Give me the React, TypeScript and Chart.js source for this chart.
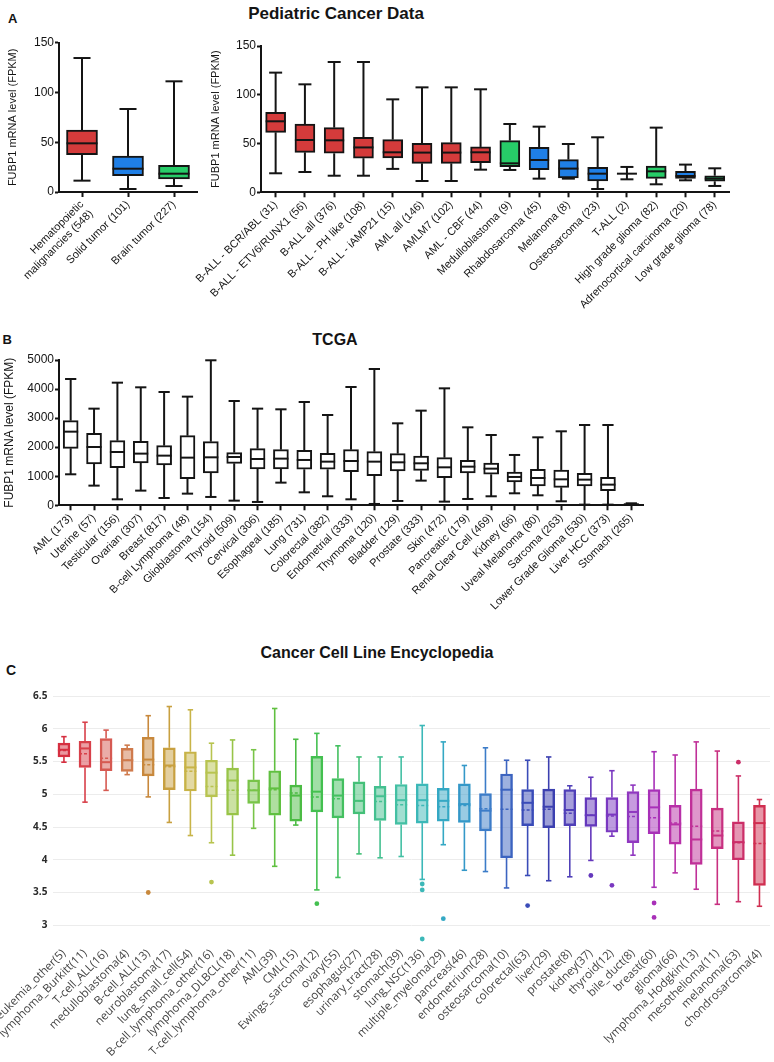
import React, { useEffect, useRef } from 'react';
import { Chart, registerables } from 'chart.js';

Chart.register(...registerables);

const ARIAL = "'Liberation Sans', Arial, Helvetica, sans-serif";
const OPEN = "'Open Sans', 'Noto Sans', sans-serif";

const RED = '#d43b3b';
const BLUE = '#1f7fe6';
const GREEN = '#27cc68';
const INK = '#141414';

// ---------- Panel A (left): pediatric groups ----------
const pedGroupLabels: (string | string[])[] = [['Hematopoietic', 'malignancies (548)'], 'Solid tumor (101)', 'Brain tumor (227)'];
const pedGroupMin = [11.4, 3.0, 6.0];
const pedGroupQ1 = [37.5, 16.4, 13.1];
const pedGroupMedian = [48.9, 23.4, 18.4];
const pedGroupQ3 = [62.3, 36.2, 26.8];
const pedGroupMax = [134.6, 83.4, 111.2];
const pedGroupColors = [RED, BLUE, GREEN];

// ---------- Panel A (right): pediatric subtypes ----------
const pedTypeLabels = [
  'B-ALL - BCR/ABL (31)', 'B-ALL - ETV6/RUNX1 (56)', 'B-ALL all (376)', 'B-ALL - PH like (108)',
  'B-ALL - iAMP21 (15)', 'AML all (146)', 'AMLM7 (102)', 'AML - CBF (44)', 'Medulloblastoma (9)',
  'Rhabdosarcoma (45)', 'Melanoma (8)', 'Osteosarcoma (23)', 'T-ALL (2)', 'High grade glioma (82)',
  'Adrenocortical carcinoma (20)', 'Low grade glioma (78)',
];
const pedTypeMin = [19.5, 20.8, 17.0, 17.0, 24.0, 11.6, 11.6, 23.2, 22.9, 14.0, 14.0, 3.4, 13.3, 8.2, 12.3, 6.5];
const pedTypeQ1 = [61.5, 41.0, 40.0, 35.0, 35.2, 29.7, 29.7, 30.4, 26.3, 23.2, 14.7, 11.6, 19.1, 14.3, 14.3, 11.3];
const pedTypeMedian = [72.8, 53.6, 53.3, 46.0, 41.0, 40.7, 40.7, 41.0, 29.7, 33.1, 24.3, 19.1, 19.1, 21.5, 16.7, 14.0];
const pedTypeQ3 = [82.0, 70.0, 66.3, 56.4, 54.0, 50.2, 51.0, 46.5, 53.0, 46.1, 33.5, 25.6, 19.1, 27.0, 21.5, 17.0];
const pedTypeMax = [122.7, 110.7, 133.6, 133.6, 95.3, 107.6, 107.6, 105.6, 70.0, 67.3, 49.5, 56.4, 26.0, 66.3, 28.4, 24.6];
const pedTypeColors = [RED, RED, RED, RED, RED, RED, RED, RED, GREEN, BLUE, BLUE, BLUE, 'rgba(0,0,0,0)', GREEN, BLUE, GREEN];

// ---------- Panel B: TCGA ----------
const tcgaLabels = [
  'AML (173)', 'Uterine (57)', 'Testicular (156)', 'Ovarian (307)', 'Breast (817)', 'B-cell Lymphoma (48)',
  'Glioblastoma (154)', 'Thyroid (509)', 'Cervical (306)', 'Esophageal (185)', 'Lung (731)', 'Colorectal (382)',
  'Endometrial (333)', 'Thymoma (120)', 'Bladder (129)', 'Prostate (333)', 'Skin (472)', 'Pancreatic (179)',
  'Renal Clear Cell (469)', 'Kidney (66)', 'Uveal Melanoma (80)', 'Sarcoma (263)', 'Lower Grade Glioma (530)',
  'Liver HCC (373)', 'Stomach (265)',
];
const tcgaMin = [1067, 677, 206, 505, 252, 401, 287, 160, 115, 780, 447, 310, 206, 46, 149, 849, 126, 218, 310, 413, 344, 138, 23, 23, 10];
const tcgaQ1 = [1961, 1422, 1296, 1456, 1388, 917, 1112, 1445, 1250, 1250, 1239, 1239, 1158, 1021, 1181, 1204, 952, 1112, 1067, 803, 665, 619, 665, 505, 23];
const tcgaMedian = [2534, 2007, 1835, 1778, 1709, 1640, 1651, 1663, 1594, 1606, 1560, 1502, 1525, 1502, 1479, 1445, 1307, 1330, 1261, 975, 940, 894, 883, 711, 35];
const tcgaQ3 = [2913, 2477, 2225, 2202, 2053, 2397, 2190, 1812, 1950, 1915, 1892, 1789, 1915, 1846, 1778, 1697, 1640, 1548, 1456, 1147, 1239, 1216, 1101, 963, 46];
const tcgaMax = [4346, 3326, 4220, 4060, 3899, 3739, 4990, 3589, 3326, 3303, 3555, 3108, 4071, 4690, 2821, 3257, 4025, 2683, 2420, 1732, 2339, 2546, 2764, 2764, 69];

// ---------- Panel C: CCLE ----------
const cclLabels = [
  'leukemia_other(5)', 'lymphoma_Burkitt(11)', 'T-cell_ALL(16)', 'medulloblastoma(4)', 'B-cell_ALL(13)',
  'neuroblastoma(17)', 'lung_small_cell(54)', 'B-cell_lymphoma_other(16)', 'lymphoma_DLBCL(18)',
  'T-cell_lymphoma_other(11)', 'AML(39)', 'CML(15)', 'Ewings_sarcoma(12)', 'ovary(55)', 'esophagus(27)',
  'urinary_tract(28)', 'stomach(39)', 'lung_NSC(136)', 'multiple_myeloma(29)', 'pancreas(46)',
  'endometrium(28)', 'osteosarcoma(10)', 'colorectal(63)', 'liver(29)', 'prostate(8)', 'kidney(37)',
  'thyroid(12)', 'bile_duct(8)', 'breast(60)', 'glioma(66)', 'lymphoma_Hodgkin(13)', 'mesothelioma(11)',
  'melanoma(63)', 'chondrosarcoma(4)',
];
const cclMin = [5.49, 4.88, 5.06, 5.30, 4.96, 4.57, 4.37, 4.26, 4.07, 4.48, 3.90, 4.53, 3.54, 3.73, 4.09, 4.03, 4.05, 3.70, 4.23, 3.84, 3.82, 3.57, 3.76, 3.68, 3.74, 3.99, 4.36, 4.07, 3.58, 3.80, 3.55, 3.32, 3.36, 3.29];
const cclQ1 = [5.57, 5.41, 5.36, 5.35, 5.28, 5.07, 5.05, 4.96, 4.68, 4.86, 4.68, 4.59, 4.73, 4.64, 4.70, 4.60, 4.54, 4.56, 4.59, 4.57, 4.44, 4.03, 4.52, 4.49, 4.52, 4.51, 4.42, 4.26, 4.40, 4.24, 3.93, 4.17, 4.00, 3.61];
const cclMedian = [5.68, 5.70, 5.49, 5.52, 5.53, 5.44, 5.41, 5.33, 5.21, 5.06, 5.09, 4.98, 5.04, 4.98, 4.90, 4.97, 4.91, 4.91, 4.90, 4.85, 4.75, 5.07, 4.87, 4.81, 4.76, 4.68, 4.69, 4.73, 4.80, 4.54, 4.31, 4.37, 4.27, 4.56];
const cclMean = [5.67, 5.62, 5.55, 5.52, 5.45, 5.42, 5.35, 5.12, 5.06, 5.06, 5.07, 5.02, 4.96, 4.93, 4.90, 4.89, 4.84, 4.83, 4.81, 4.83, 4.78, 4.77, 4.76, 4.77, 4.71, 4.68, 4.67, 4.66, 4.64, 4.56, 4.51, 4.44, 4.26, 4.25];
const cclQ3 = [5.78, 5.81, 5.85, 5.70, 5.87, 5.71, 5.65, 5.52, 5.40, 5.22, 5.36, 5.14, 5.58, 5.24, 5.19, 5.12, 5.15, 5.16, 5.09, 5.16, 5.01, 5.31, 5.07, 5.08, 5.07, 4.95, 4.95, 5.04, 5.07, 4.83, 5.08, 4.79, 4.58, 4.83];
const cclMax = [5.88, 6.10, 5.98, 5.75, 6.20, 6.34, 6.29, 5.78, 5.83, 5.68, 6.31, 5.84, 5.93, 5.74, 5.57, 5.57, 5.57, 6.05, 5.80, 5.44, 5.71, 5.52, 5.52, 5.57, 5.13, 5.26, 5.36, 5.14, 5.65, 5.60, 5.80, 5.66, 5.28, 4.92];
const cclOutlierGroups = [
  'B-cell_ALL(13)', 'B-cell_lymphoma_other(16)', 'Ewings_sarcoma(12)', 'lung_NSC(136)', 'lung_NSC(136)',
  'lung_NSC(136)', 'multiple_myeloma(29)', 'colorectal(63)', 'kidney(37)', 'thyroid(12)', 'breast(60)',
  'breast(60)', 'melanoma(63)',
];
const cclOutlierValues = [3.50, 3.66, 3.33, 3.63, 3.54, 2.79, 3.10, 3.30, 3.76, 3.61, 3.34, 3.12, 5.49];
const cclColors = [
  '#d62f40', '#d8404a', '#d65a52', '#cf7a4c', '#c8883c', '#c8a040', '#c8b448', '#b8c450', '#98c448',
  '#78c448', '#60c040', '#4cbc44', '#44c050', '#44c060', '#44c078', '#44c090', '#44c0a4', '#3cb8b8',
  '#34a8c4', '#3498c8', '#3c7cc8', '#3c64c0', '#3a4cb8', '#3c40b0', '#5040b8', '#6438bc', '#7a38c0',
  '#9038c0', '#a830b8', '#b830a8', '#c03098', '#c83080', '#cc2e68', '#d02e50',
];

function withAlpha(hex: string, a: number) {
  const n = parseInt(hex.slice(1), 16);
  return `rgba(${(n >> 16) & 255},${(n >> 8) & 255},${n & 255},${a})`;
}

type BoxStats = {
  min: number[];
  median: number[];
  max: number[];
  mean?: number[];
  lineColors: string[];
  lineWidth: number;
  capRatio: number;
  medianWidth: number;
};

function boxOverlay(s: BoxStats) {
  return {
    id: 'boxOverlay',
    afterDatasetsDraw(chart: any) {
      const ctx = chart.ctx as CanvasRenderingContext2D;
      const yScale = chart.scales.y;
      const meta = chart.getDatasetMeta(0);
      const boxes = chart.data.datasets[0].data as number[][];
      const seg = (x1: number, y1: number, x2: number, y2: number) => {
        ctx.beginPath();
        ctx.moveTo(x1, y1);
        ctx.lineTo(x2, y2);
        ctx.stroke();
      };
      ctx.save();
      ctx.lineCap = 'butt';
      meta.data.forEach((bar: any, i: number) => {
        const x = bar.x;
        const half = bar.width / 2;
        const cap = half * s.capRatio;
        const yLo = yScale.getPixelForValue(boxes[i][0]);
        const yHi = yScale.getPixelForValue(boxes[i][1]);
        const yMin = yScale.getPixelForValue(s.min[i]);
        const yMax = yScale.getPixelForValue(s.max[i]);
        const yMed = yScale.getPixelForValue(s.median[i]);
        ctx.strokeStyle = s.lineColors[i];
        ctx.lineWidth = s.lineWidth;
        ctx.setLineDash([]);
        seg(x, yHi, x, yMax);
        seg(x - cap, yMax, x + cap, yMax);
        seg(x, yLo, x, yMin);
        seg(x - cap, yMin, x + cap, yMin);
        ctx.lineWidth = s.medianWidth;
        seg(x - half, yMed, x + half, yMed);
        if (s.mean) {
          const yMean = yScale.getPixelForValue(s.mean[i]);
          ctx.lineWidth = 1.5;
          ctx.setLineDash([3, 2]);
          seg(x - half, yMean, x + half, yMean);
        }
      });
      ctx.restore();
    },
  };
}

type PrismOpts = {
  labels: (string | string[])[];
  q1: number[];
  q3: number[];
  min: number[];
  median: number[];
  max: number[];
  colors: string[];
  yMax: number;
  step: number;
  barThickness: number;
  capRatio: number;
  yWidth: number;
  xHeight: number;
  padTop: number;
  padRight: number;
  titlePad: number;
  titleSize: number;
  xFont: number;
};

function prismConfig(o: PrismOpts): any {
  return {
    type: 'bar',
    data: {
      labels: o.labels,
      datasets: [
        {
          data: o.q1.map((v, i) => [v, o.q3[i]]),
          backgroundColor: o.colors,
          borderColor: INK,
          borderWidth: 2,
          borderSkipped: false,
          barThickness: o.barThickness,
        },
      ],
    },
    options: {
      responsive: false,
      maintainAspectRatio: false,
      animation: false,
      events: [],
      layout: { padding: { top: o.padTop, right: o.padRight, left: 0, bottom: 0 } },
      plugins: { legend: { display: false }, tooltip: { enabled: false } },
      scales: {
        x: {
          offset: true,
          grid: { display: true, drawOnChartArea: false, drawTicks: true, tickLength: 5, tickWidth: 2, tickColor: INK, offset: false },
          border: { display: true, color: INK, width: 2 },
          ticks: { autoSkip: false, minRotation: 45, maxRotation: 45, padding: 1, color: INK, font: { family: ARIAL, size: o.xFont } },
          afterFit: (s: any) => {
            s.height = o.xHeight;
            s.paddingLeft = 0;
            s.paddingRight = 0;
          },
        },
        y: {
          min: 0,
          max: o.yMax,
          grid: { drawOnChartArea: false, drawTicks: true, tickLength: 4, tickWidth: 2, tickColor: INK },
          border: { display: true, color: INK, width: 2 },
          ticks: { stepSize: o.step, padding: 1, color: INK, font: { family: ARIAL, size: 12 }, callback: (v: any) => String(v) },
          title: {
            display: true,
            text: 'FUBP1 mRNA level (FPKM)',
            color: INK,
            font: { family: ARIAL, size: o.titleSize },
            padding: { top: o.titlePad, bottom: 0 },
          },
          afterFit: (s: any) => {
            s.width = o.yWidth;
            s.paddingTop = 0;
            s.paddingBottom = 0;
          },
        },
      },
    },
    plugins: [
      boxOverlay({ min: o.min, median: o.median, max: o.max, lineColors: o.labels.map(() => INK), lineWidth: 2, capRatio: o.capRatio, medianWidth: 2 }),
    ],
  };
}

function cclConfig(): any {
  return {
    type: 'bar',
    data: {
      labels: cclLabels,
      datasets: [
        {
          type: 'bar',
          data: cclQ1.map((v, i) => [v, cclQ3[i]]),
          backgroundColor: cclColors.map((c) => withAlpha(c, 0.5)),
          borderColor: cclColors,
          borderWidth: 1.8,
          borderSkipped: false,
          barThickness: 12,
        },
        {
          type: 'scatter',
          data: cclOutlierGroups.map((g, i) => ({ x: g, y: cclOutlierValues[i] })),
          pointRadius: 2.4,
          pointBorderWidth: 0,
          pointBackgroundColor: cclOutlierGroups.map((g) => cclColors[cclLabels.indexOf(g)]),
          showLine: false,
        },
      ],
    },
    options: {
      responsive: false,
      maintainAspectRatio: false,
      animation: false,
      events: [],
      layout: { padding: { top: 59.5, right: 0.4, left: 0, bottom: 0 } },
      plugins: { legend: { display: false }, tooltip: { enabled: false } },
      scales: {
        x: {
          type: 'category',
          offset: true,
          grid: { display: false, drawTicks: false },
          border: { display: false },
          ticks: { autoSkip: false, minRotation: 45, maxRotation: 45, padding: 3, color: '#444', font: { family: OPEN, size: 11.5 } },
          afterFit: (s: any) => {
            s.height = 118.4;
            s.paddingLeft = 0;
            s.paddingRight = 0;
          },
        },
        y: {
          min: 2.72,
          max: 6.6,
          grid: { color: '#ececec', lineWidth: 1, drawTicks: false },
          border: { display: false },
          ticks: {
            stepSize: 0.5,
            includeBounds: false,
            padding: 6,
            color: '#2a2a2a',
            font: { family: OPEN, size: 10, weight: 'bold' },
            callback: (v: any) => String(v),
          },
          afterFit: (s: any) => {
            s.width = 53.4;
            s.paddingTop = 0;
            s.paddingBottom = 0;
          },
        },
      },
    },
    plugins: [
      boxOverlay({ min: cclMin, median: cclMedian, max: cclMax, mean: cclMean, lineColors: cclColors, lineWidth: 1.6, capRatio: 0.45, medianWidth: 2 }),
    ],
  };
}

function ChartCanvas({ make, left, top, width, height }: { make: () => any; left: number; top: number; width: number; height: number }) {
  const ref = useRef<HTMLCanvasElement>(null);
  useEffect(() => {
    if (!ref.current) return;
    const chart = new Chart(ref.current, make());
    return () => chart.destroy();
  }, []);
  return (
    <canvas
      ref={ref}
      width={width}
      height={height}
      style={{ position: 'absolute', left, top, width, height }}
    />
  );
}

function Label({ text, left, top, size, center }: { text: string; left: number; top: number; size: number; center?: boolean }) {
  return (
    <div
      style={{
        position: 'absolute',
        left,
        top,
        fontFamily: ARIAL,
        fontWeight: 'bold',
        fontSize: size,
        lineHeight: `${size}px`,
        whiteSpace: 'nowrap',
        color: INK,
        transform: center ? 'translateX(-50%)' : undefined,
      }}
    >
      {text}
    </div>
  );
}

export default function App() {
  return (
    <div style={{ position: 'absolute', left: 0, top: 0, width: 774, height: 1062, background: '#fff', overflow: 'hidden' }}>
      <Label text="A" left={8} top={11.5} size={13} />
      <Label text="Pediatric Cancer Data" left={336} top={4.8} size={17} center />
      <ChartCanvas
        left={0}
        top={30}
        width={205}
        height={290}
        make={() =>
          prismConfig({
            labels: pedGroupLabels, q1: pedGroupQ1, q3: pedGroupQ3, min: pedGroupMin, median: pedGroupMedian, max: pedGroupMax,
            colors: pedGroupColors, yMax: 150, step: 50, barThickness: 31, capRatio: 0.55,
            yWidth: 59, xHeight: 128, padTop: 12.7, padRight: 8, titlePad: 6, titleSize: 11, xFont: 11,
          })
        }
      />
      <ChartCanvas
        left={100}
        top={30}
        width={674}
        height={290}
        make={() =>
          prismConfig({
            labels: pedTypeLabels, q1: pedTypeQ1, q3: pedTypeQ3, min: pedTypeMin, median: pedTypeMedian, max: pedTypeMax,
            colors: pedTypeColors, yMax: 150, step: 50, barThickness: 20, capRatio: 0.65,
            yWidth: 161, xHeight: 127.7, padTop: 16, padRight: 44.6, titlePad: 109, titleSize: 11, xFont: 11,
          })
        }
      />
      <Label text="B" left={2.5} top={333.3} size={13} />
      <Label text="TCGA" left={335} top={332} size={16} center />
      <ChartCanvas
        left={0}
        top={350}
        width={774}
        height={280}
        make={() =>
          prismConfig({
            labels: tcgaLabels, q1: tcgaQ1, q3: tcgaQ3, min: tcgaMin, median: tcgaMedian, max: tcgaMax,
            colors: tcgaLabels.map(() => '#ffffff'), yMax: 5000, step: 1000, barThickness: 15, capRatio: 0.75,
            yWidth: 59, xHeight: 124.7, padTop: 10, padRight: 131, titlePad: 2, titleSize: 12, xFont: 11,
          })
        }
      />
      <Label text="C" left={6} top={663.2} size={14} />
      <Label text="Cancer Cell Line Encyclopedia" left={377} top={645} size={16} center />
      <ChartCanvas left={0} top={630} width={774} height={432} make={cclConfig} />
    </div>
  );
}
